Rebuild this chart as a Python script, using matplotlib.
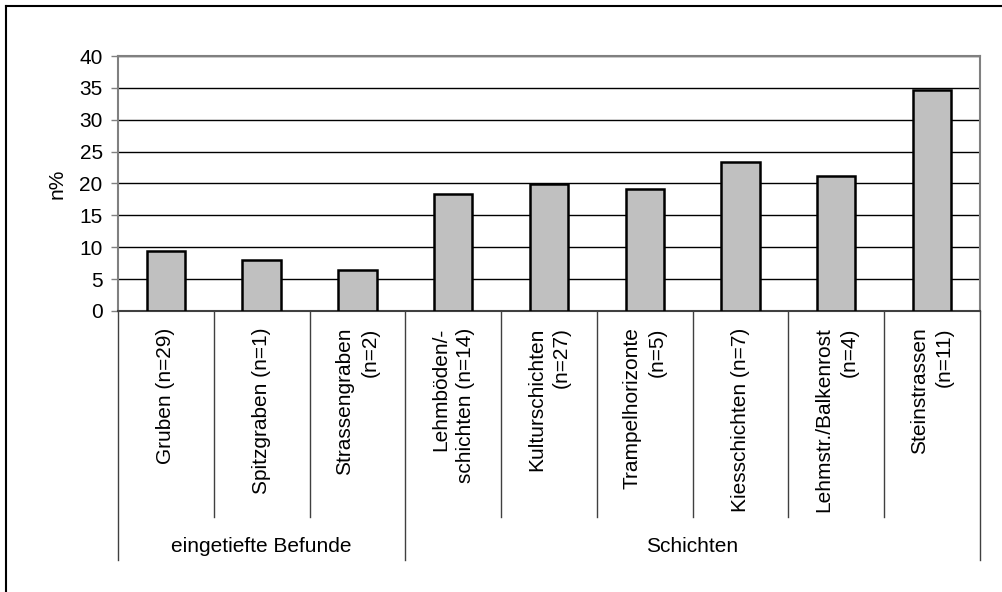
import matplotlib
matplotlib.use("Agg")
import matplotlib.pyplot as plt
from matplotlib.transforms import blended_transform_factory
from matplotlib.lines import Line2D

plt.rcParams['font.family'] = ['Liberation Sans', 'DejaVu Sans']

# Daten
kategorien = ["Gruben (n=29)", "Spitzgraben (n=1)", "Strassengraben\n(n=2)",
              "Lehmböden/-\nschichten (n=14)", "Kulturschichten\n(n=27)",
              "Trampelhorizonte\n(n=5)", "Kiesschichten (n=7)",
              "Lehmstr./Balkenrost\n(n=4)", "Steinstrassen\n(n=11)"]
werte = [9.4, 8.0, 6.5, 18.3, 19.9, 19.2, 23.3, 21.2, 34.6]
gruppen = ["eingetiefte Befunde", "Schichten"]
gruppen_grenzen = [(0, 2), (3, 8)]
y_ticks = [0, 5, 10, 15, 20, 25, 30, 35, 40]

fs = 15

fig = plt.figure(figsize=(10.03, 5.92), dpi=100)
ax = fig.add_axes([0.1176, 0.4747, 0.977 - 0.1176, 0.9054 - 0.4747])

x = list(range(len(werte)))
ax.bar(x, werte, width=0.4, color='#c0c0c0', edgecolor='black', linewidth=1.8, zorder=3)

ax.set_xlim(-0.5, len(werte) - 0.5)
ax.set_ylim(0, 40)
ax.set_yticks(y_ticks)
ax.tick_params(axis='y', labelsize=fs, length=5, width=1, color='#808080', pad=6)
ax.set_xticks([])
ax.yaxis.grid(True, color='black', linewidth=1)
ax.set_axisbelow(True)
for s in ax.spines.values():
    s.set_color('#808080')
    s.set_linewidth(1.5)
ax.spines['bottom'].set_color('#404040')

ax.set_ylabel("n%", fontsize=fs, labelpad=9)

trans = blended_transform_factory(ax.transData, ax.transAxes)

# Kategorienbeschriftung
for i, name in enumerate(kategorien):
    ax.text(i, -0.064, name, transform=trans, rotation=90, ha='center', va='top',
            multialignment='right', fontsize=fs, linespacing=1.4)

# Trennlinien
grenzen_aussen = set()
for a, b in gruppen_grenzen:
    grenzen_aussen.add(a - 0.5)
    grenzen_aussen.add(b + 0.5)
for i in range(len(werte) + 1):
    xb = i - 0.5
    y_end = -0.976 if xb in grenzen_aussen else -0.808
    ax.add_line(Line2D([xb, xb], [0, y_end], transform=trans, color='#404040',
                       linewidth=1, clip_on=False))

for name, (a, b) in zip(gruppen, gruppen_grenzen):
    ax.text((a + b) / 2, -0.925, name, transform=trans, ha='center', va='center',
            fontsize=fs)

# Rahmen
fig.add_artist(Line2D([6 / 1003, 6 / 1003], [0, 1 - 6 / 592], transform=fig.transFigure,
                      color='black', linewidth=1.5))
fig.add_artist(Line2D([6 / 1003, 1], [1 - 6 / 592, 1 - 6 / 592], transform=fig.transFigure,
                      color='black', linewidth=1.5))

fig.savefig("out.png", dpi=100)
